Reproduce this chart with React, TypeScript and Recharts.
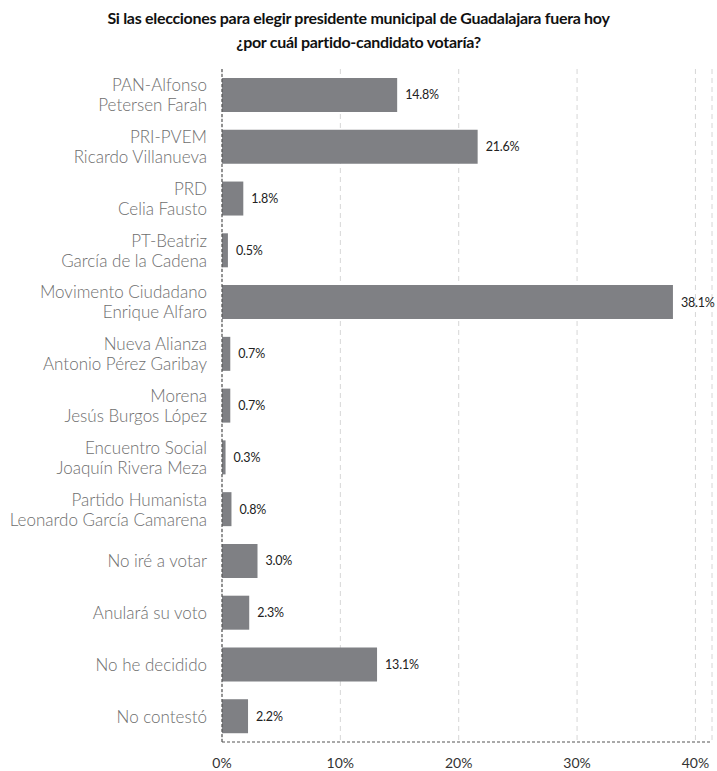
import React from "react";
import { BarChart, Bar, XAxis, YAxis, CartesianGrid, LabelList } from "recharts";

const categories = [
  "PAN-Alfonso\nPetersen Farah",
  "PRI-PVEM\nRicardo Villanueva",
  "PRD\nCelia Fausto",
  "PT-Beatriz\nGarcía de la Cadena",
  "Movimento Ciudadano\nEnrique Alfaro",
  "Nueva Alianza\nAntonio Pérez Garibay",
  "Morena\nJesús Burgos López",
  "Encuentro Social\nJoaquín Rivera Meza",
  "Partido Humanista\nLeonardo García Camarena",
  "No iré a votar",
  "Anulará su voto",
  "No he decidido",
  "No contestó",
];

const values = [14.8, 21.6, 1.8, 0.5, 38.1, 0.7, 0.7, 0.3, 0.8, 3.0, 2.3, 13.1, 2.2];

const xTicks = [0, 10, 20, 30, 40];

const titleLines = [
  "Si las elecciones para elegir presidente municipal de Guadalajara fuera hoy",
  "¿por cuál partido-candidato votaría?",
];

const data = categories.map((name, i) => ({ name, value: values[i] }));

const LABEL_FONT = "Lato, 'Open Sans', sans-serif";

// two-line category label, right-aligned against the axis
const CategoryTick = (props: any) => {
  const { x, y, payload } = props;
  const lines: string[] = String(payload.value).split("\n");
  const gap = 20;
  const start = -((lines.length - 1) * gap) / 2;
  return (
    <g>
      {lines.map((line, i) => (
        <text
          key={i}
          x={x - 1}
          y={y + start + i * gap}
          textAnchor="end"
          dominantBaseline="central"
          fontFamily={LABEL_FONT}
          fontWeight={300}
          fontSize={17}
          fill="#6e6e6e"
        >
          {line}
        </text>
      ))}
    </g>
  );
};

export default function App() {
  return (
    <div
      style={{
        position: "absolute",
        left: 0,
        top: 0,
        width: 717,
        height: 771,
        background: "#fff",
      }}
    >
      <div
        style={{
          position: "absolute",
          top: 6,
          left: 0,
          width: 717,
          textAlign: "center",
          fontFamily: LABEL_FONT,
          fontWeight: 700,
          fontSize: 16,
          letterSpacing: -0.3,
          lineHeight: "24px",
          color: "#111",
        }}
      >
        {titleLines.map((t, i) => (
          <div key={i}>{t}</div>
        ))}
      </div>
      <BarChart
        width={717}
        height={771}
        data={data}
        layout="vertical"
        margin={{ top: 69, right: 5, bottom: 4, left: 0 }}
      >
        <CartesianGrid
          horizontal={false}
          stroke="#d6d6d6"
          strokeDasharray="5 4"
        />
        <XAxis
          type="number"
          domain={[0, 41.4]}
          ticks={xTicks}
          tickFormatter={(v: number) => `${v}%`}
          tickLine={false}
          axisLine={{ stroke: "#555", strokeDasharray: "3 2", strokeWidth: 1.2 }}
          tick={{ fill: "#333", fontSize: 14, fontFamily: LABEL_FONT }}
          height={25}
          tickMargin={10}
        />
        <YAxis
          type="category"
          dataKey="name"
          width={222}
          tickLine={false}
          axisLine={{ stroke: "#555", strokeDasharray: "3 2", strokeWidth: 1.2 }}
          tick={<CategoryTick />}
          tickMargin={8}
          interval={0}
        />
        <Bar dataKey="value" fill="#7f8084" barSize={34} isAnimationActive={false}>
          <LabelList
            dataKey="value"
            position="right"
            offset={8}
            formatter={(v: any) => `${Number(v).toFixed(1)}%`}
            style={{ fill: "#222", fontSize: 12.5, fontFamily: LABEL_FONT, letterSpacing: -0.2 }}
          />
        </Bar>
      </BarChart>
    </div>
  );
}
